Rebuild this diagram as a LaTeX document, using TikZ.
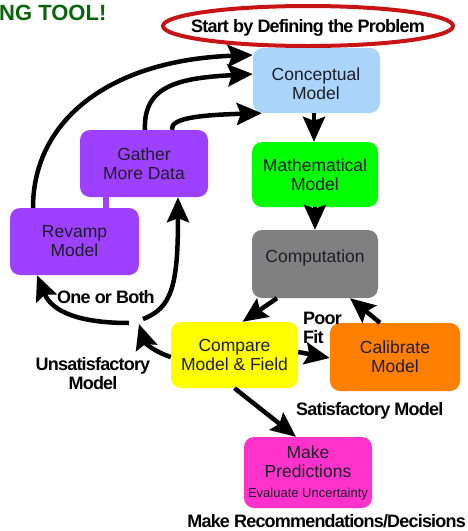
\documentclass[tikz,border=0pt]{standalone}
\usepackage{fontspec}
\setmainfont{Liberation Sans}
\newfontfamily\lblfont[LetterSpace=-4.5]{Liberation Sans Bold}
\usetikzlibrary{arrows.meta,shapes.geometric}
\definecolor{cblue}{RGB}{170,212,250}
\definecolor{cgreen}{RGB}{0,255,0}
\definecolor{cgray}{RGB}{128,128,128}
\definecolor{cyellow}{RGB}{255,255,0}
\definecolor{corange}{RGB}{255,128,0}
\definecolor{cmagenta}{RGB}{255,51,204}
\definecolor{cpurple}{RGB}{158,64,255}
\definecolor{cred}{RGB}{200,20,20}
\definecolor{ctitle}{RGB}{10,100,10}
\definecolor{ctext}{RGB}{30,30,40}
\begin{document}
\begin{tikzpicture}[x=1pt,y=-1pt,
  box/.style={rounded corners=10pt, minimum width=127pt, minimum height=66pt,
    inner sep=0pt, align=center, text=ctext, font=\fontsize{17.5}{19}\selectfont},
  btxt/.style={inner sep=0pt, align=center, text=ctext, font=\fontsize{17.5}{19}\selectfont},
  lbl/.style={font=\lblfont\fontsize{18}{19}\selectfont, inner sep=0pt, text=black},
  arr/.style={line width=4.5pt, draw=black, -{Stealth[length=25pt 0 0,width=22pt 0 0,inset=4pt]}},
  ln/.style={line width=4.5pt, draw=black}]
\useasboundingbox (0,0) rectangle (467,531);

% title
\node[anchor=west, inner sep=0pt, text=ctitle, font=\bfseries\fontsize{22}{23}\selectfont] (title) at (-1,13) {NG TOOL!};

% start ellipse
\node[ellipse, draw=cred, line width=4pt, minimum width=290pt, minimum height=40pt, inner sep=0pt] (start) at (308,26) {};
\node[lbl] (starttxt) at (308,28) {Start by Defining the Problem};

% boxes
\node[box, fill=cblue, minimum width=127pt, minimum height=65pt] (concept) at (316.5,80.5) {};
\node[btxt] (concepttxt) at (316,84) {Conceptual\\Model};
\node[box, fill=cgreen, minimum width=126pt, minimum height=65pt] (math) at (315,174.5) {Mathematical\\Model};
\node[box, fill=cgray, minimum width=126pt, minimum height=68pt] (comp) at (315,264) {};
\node[btxt] (comptxt) at (315,258) {Computation};
\node[box, fill=cyellow, minimum width=127pt, minimum height=66pt] (compare) at (234.5,355) {Compare\\Model \& Field};
\node[box, fill=corange, minimum width=130pt, minimum height=68pt] (calib) at (395,357) {Calibrate\\Model};
\node[box, fill=cmagenta, minimum width=128pt, minimum height=71pt] (predict) at (308,472.5) {};
\node[btxt] (predtxt) at (308,462) {Make\\Predictions};
\node[inner sep=0pt, text=ctext, font=\fontsize{13}{14}\selectfont] (evaltxt) at (308,494) {Evaluate Uncertainty};
\node[box, fill=cpurple, minimum width=128pt, minimum height=67pt] (gather) at (144,163.5) {Gather\\More Data};
\node[box, fill=cpurple, minimum width=129pt, minimum height=67pt] (revamp) at (74.5,241.5) {Revamp\\Model};

% stem between gather and revamp
\draw[cpurple, line width=6pt] (gather.south -| 106,0) -- (revamp.north -| 106,0);

% straight arrows
\draw[arr] (concept.south -| 314,0) -- (math.north -| 314,0);
\draw[arr] (math.south -| 315,0) -- (comp.north -| 315,0);
\draw[arr] ([xshift=-38pt]comp.south) -- ([xshift=8pt]compare.north);
\draw[arr] ([yshift=3pt]compare.east) -- (calib.west |- 0,358);
\draw[arr] ([xshift=-15pt]calib.north) -- ([xshift=35pt]comp.south);
\draw[arr] ([xshift=0pt]compare.south) -- ([xshift=-12pt]predict.north);

% junction points
\coordinate (j1) at (139,324);
\coordinate (j2) at (129,323);
\coordinate (j3) at (143,319);

% curved arrows
\draw[arr] (compare.west |- 0,357) .. controls (155,352) and (145,343) .. (j1);
\draw[arr] (j2) .. controls (80,323) and (52,312) .. (revamp.south -| 37,0);
\draw[arr] (j3) .. controls (172,308) and (178,285) .. (gather.south -| 178,0);
\draw[arr] (revamp.north -| 33,0) .. controls (33,120) and (110,60) .. (concept.west |- 0,55);
\draw[arr] (gather.north -| 145,0) .. controls (143,85) and (180,78) .. (concept.west |- 0,74);
\draw[arr] (gather.north -| 172,0) .. controls (170,118) and (200,115) .. ([xshift=9pt]concept.south west);

% labels
\node[lbl, anchor=west] (oneboth) at (57,297) {One or Both};
\node[lbl, align=center] (unsat) at (93,374) {Unsatisfactory\\Model};
\node[lbl, align=left, anchor=west] (poor) at (303,328) {Poor\\Fit};
\node[lbl, anchor=west] (satis) at (296,411) {Satisfactory Model};
\node[lbl, anchor=east] (recom) at (466,521) {Make Recommendations/Decisions};
\end{tikzpicture}
\end{document}
